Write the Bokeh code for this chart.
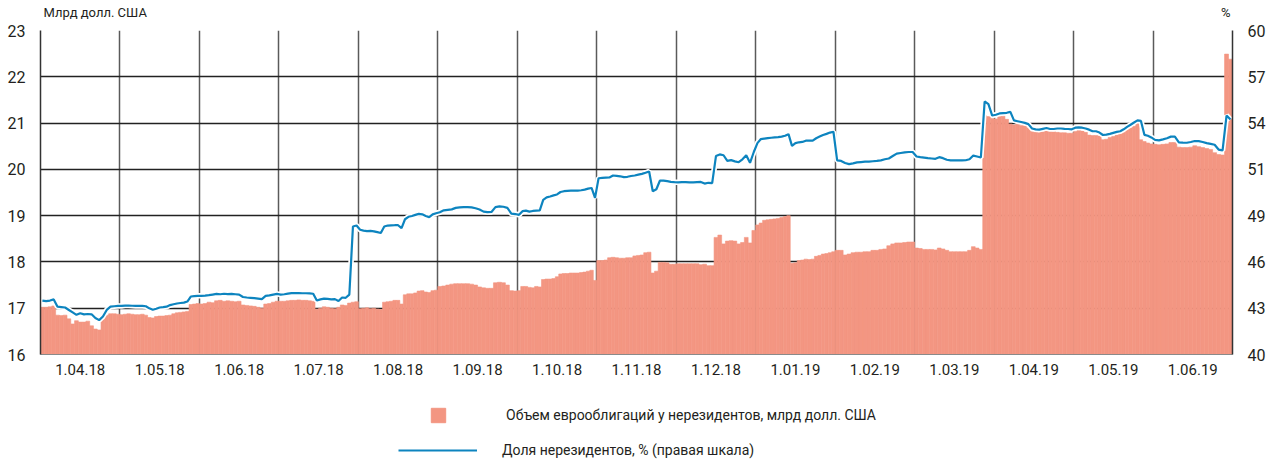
from bokeh.plotting import figure
from bokeh.layouts import column
from bokeh.models import (Range1d, LinearAxis, FixedTicker, NumeralTickFormatter,
                          Legend, LegendItem, Label, ColumnDataSource)
from bokeh.embed import file_html
from bokeh.resources import INLINE

# ---------------- data ----------------
month_labels = ["1.04.18", "1.05.18", "1.06.18", "1.07.18", "1.08.18", "1.09.18",
                "1.10.18", "1.11.18", "1.12.18", "1.01.19", "1.02.19", "1.03.19",
                "1.04.19", "1.05.19", "1.06.19"]
# trading days in each month (one bar per day)
days_per_month = [21, 23, 21, 22, 23, 20, 23, 22, 21, 23, 20, 21, 22, 23, 20]

# Eurobonds held by non-residents, bn USD (left axis)
volume = [
    17.02, 17.02, 17.03, 17.05, 16.85, 16.84, 16.85, 16.77, 16.66, 16.73, 16.70, 16.70, 16.72, 16.62, 16.55, 16.53, 16.84, 16.85, 16.88, 16.88, 16.87,
    16.86, 16.87, 16.88, 16.87, 16.86, 16.86, 16.87, 16.85, 16.80, 16.79, 16.82, 16.83, 16.83, 16.84, 16.85, 16.88, 16.90, 16.91, 16.92, 16.93, 17.08, 17.09, 17.10,
    17.09, 17.10, 17.13, 17.12, 17.16, 17.17, 17.15, 17.16, 17.15, 17.14, 17.15, 17.07, 17.06, 17.05, 17.04, 17.02, 17.00, 17.09, 17.10, 17.13, 17.15,
    17.15, 17.15, 17.16, 17.17, 17.17, 17.18, 17.17, 17.17, 17.16, 17.15, 16.98, 17.00, 17.03, 17.02, 17.00, 16.99, 17.02, 17.07, 17.06, 17.11, 17.13, 17.14,
    16.99, 17.00, 17.01, 16.99, 17.00, 16.98, 16.97, 17.13, 17.14, 17.15, 17.17, 17.17, 17.09, 17.29, 17.31, 17.31, 17.33, 17.37, 17.38, 17.35, 17.34, 17.38, 17.39,
    17.47, 17.48, 17.50, 17.52, 17.53, 17.53, 17.53, 17.53, 17.52, 17.50, 17.46, 17.44, 17.43, 17.43, 17.55, 17.56, 17.55, 17.50, 17.38, 17.37,
    17.38, 17.47, 17.47, 17.45, 17.44, 17.47, 17.46, 17.62, 17.63, 17.63, 17.64, 17.68, 17.74, 17.75, 17.75, 17.76, 17.76, 17.76, 17.77, 17.78, 17.80, 17.82, 17.60,
    18.03, 18.03, 18.04, 18.09, 18.10, 18.09, 18.08, 18.08, 18.09, 18.09, 18.13, 18.14, 18.15, 18.20, 18.21, 17.76, 17.80, 17.99, 17.99, 17.98, 17.95, 17.95,
    17.96, 17.96, 17.96, 17.96, 17.96, 17.96, 17.94, 17.95, 17.92, 17.92, 18.53, 18.58, 18.39, 18.45, 18.46, 18.45, 18.39, 18.42, 18.53, 18.41, 18.68,
    18.80, 18.84, 18.90, 18.91, 18.92, 18.93, 18.94, 18.96, 18.98, 19.00, 17.97, 17.98, 18.03, 18.04, 18.06, 18.05, 18.06, 18.12, 18.14, 18.17, 18.18, 18.20, 18.22,
    18.25, 18.25, 18.15, 18.17, 18.20, 18.21, 18.21, 18.22, 18.22, 18.25, 18.25, 18.27, 18.28, 18.35, 18.39, 18.41, 18.41, 18.42, 18.43, 18.43,
    18.30, 18.29, 18.27, 18.27, 18.27, 18.26, 18.30, 18.28, 18.25, 18.22, 18.22, 18.22, 18.22, 18.22, 18.25, 18.33, 18.30, 18.27, 21.16, 21.14, 21.10,
    21.09, 21.14, 21.15, 21.08, 20.98, 20.96, 21.00, 20.95, 20.94, 20.90, 20.82, 20.80, 20.80, 20.81, 20.84, 20.83, 20.82, 20.80, 20.79, 20.79, 20.78, 20.78,
    20.82, 20.84, 20.83, 20.80, 20.74, 20.73, 20.73, 20.72, 20.64, 20.65, 20.69, 20.71, 20.74, 20.78, 20.80, 20.86, 20.90, 20.93, 21.00, 20.64, 20.60, 20.57, 20.55,
    20.54, 20.53, 20.54, 20.55, 20.58, 20.58, 20.48, 20.47, 20.47, 20.48, 20.51, 20.49, 20.47, 20.45, 20.43, 20.36, 20.32, 20.31, 22.49, 22.38,
]

# Share of non-residents, % (right axis)
share = [
    43.33, 43.30, 43.33, 43.40, 42.95, 42.93, 42.90, 42.75, 42.60, 42.45, 42.55, 42.48, 42.50, 42.48, 42.25, 42.12, 42.35, 42.75, 42.95, 42.98, 43.00,
    43.00, 43.02, 43.02, 43.01, 43.00, 43.00, 43.00, 42.98, 42.85, 42.76, 42.82, 42.90, 42.92, 42.95, 43.05, 43.10, 43.15, 43.18, 43.20, 43.27, 43.58, 43.60, 43.62,
    43.62, 43.63, 43.66, 43.70, 43.74, 43.72, 43.75, 43.73, 43.74, 43.72, 43.70, 43.55, 43.52, 43.50, 43.48, 43.45, 43.42, 43.62, 43.65, 43.70, 43.74,
    43.70, 43.72, 43.76, 43.79, 43.79, 43.79, 43.78, 43.78, 43.77, 43.75, 43.33, 43.40, 43.45, 43.43, 43.40, 43.42, 43.30, 43.52, 43.50, 43.70, 47.90, 47.96,
    47.70, 47.65, 47.62, 47.63, 47.60, 47.55, 47.50, 47.90, 47.96, 47.97, 47.98, 47.98, 47.80, 48.35, 48.50, 48.55, 48.62, 48.68, 48.65, 48.55, 48.48, 48.65, 48.72,
    48.78, 48.90, 48.93, 48.96, 49.05, 49.08, 49.10, 49.10, 49.08, 49.03, 48.95, 48.82, 48.79, 48.80, 49.10, 49.14, 49.12, 49.05, 48.70, 48.67,
    48.62, 48.85, 48.88, 48.82, 48.86, 48.88, 48.90, 49.55, 49.70, 49.75, 49.82, 49.88, 50.03, 50.08, 50.10, 50.11, 50.12, 50.12, 50.14, 50.18, 50.24, 50.28, 49.67,
    50.88, 50.90, 50.92, 50.93, 51.05, 51.03, 51.00, 50.95, 50.97, 51.02, 51.05, 51.10, 51.15, 51.22, 51.30, 50.08, 50.20, 50.74, 50.73, 50.70, 50.66, 50.64,
    50.63, 50.64, 50.64, 50.63, 50.63, 50.64, 50.65, 50.55, 50.60, 50.58, 52.25, 52.35, 52.30, 51.95, 52.00, 51.92, 51.87, 52.05, 52.30, 51.83, 52.50,
    53.05, 53.30, 53.33, 53.36, 53.38, 53.40, 53.42, 53.45, 53.50, 53.60, 52.88, 53.05, 53.10, 53.12, 53.20, 53.21, 53.20, 53.35, 53.45, 53.55, 53.62, 53.70, 53.75,
    51.98, 51.95, 51.82, 51.75, 51.80, 51.86, 51.88, 51.90, 51.91, 51.93, 51.95, 51.98, 52.05, 52.10, 52.25, 52.40, 52.44, 52.48, 52.50, 52.50,
    52.22, 52.18, 52.15, 52.12, 52.10, 52.08, 52.18, 52.12, 52.02, 51.98, 51.98, 51.98, 51.98, 51.99, 52.05, 52.28, 52.22, 52.16, 55.62, 55.45, 54.75,
    54.80, 54.88, 54.90, 54.92, 54.98, 54.45, 54.40, 54.35, 54.30, 54.22, 53.95, 53.90, 53.88, 53.93, 53.98, 53.92, 53.92, 53.95, 53.95, 53.93, 53.92, 53.90,
    54.00, 54.02, 54.00, 53.95, 53.88, 53.78, 53.78, 53.70, 53.55, 53.57, 53.62, 53.68, 53.74, 53.78, 53.90, 54.05, 54.18, 54.32, 54.45, 54.42, 53.56, 53.50, 53.40,
    53.25, 53.22, 53.28, 53.35, 53.45, 53.45, 53.10, 53.08, 53.07, 53.12, 53.18, 53.17, 53.12, 53.05, 53.00, 52.95, 52.65, 52.60, 54.75, 54.50,
]

left_ticks = [16, 17, 18, 19, 20, 21, 22, 23]
right_range = (40, 60)

unit_left = "Млрд долл. США"
unit_right = "%"
label_volume = "Объем еврооблигаций у нерезидентов, млрд долл. США"
label_share = "Доля нерезидентов, % (правая шкала)"

# ---------------- style ----------------
FONT = "Roboto"
TXT = "#231f20"
BAR = "#F39682"
BLUE = "#0D84BF"
W = 1273
BORDER_L, BORDER_R = 40, 41   # frames of all strips are aligned


def blank_strip(h):
    f = figure(width=W, height=h, x_range=Range1d(0, 1), y_range=Range1d(0, 1),
               x_axis_location=None, y_axis_location=None,
               output_backend="svg", toolbar_location=None,
               min_border_left=BORDER_L, min_border_right=BORDER_R,
               min_border_top=0, min_border_bottom=0)
    f.grid.visible = False
    f.outline_line_color = None
    return f


# bar positions: each month occupies one unit of the x scale
xs, ws = [], []
for k, n in enumerate(days_per_month):
    for j in range(n):
        xs.append(k + (j + 0.5) / n)
        ws.append(1.0 / n)

src = ColumnDataSource(dict(x=xs, w=ws, volume=volume, share=share))
n_months = len(month_labels)

# ---------------- header strip (unit labels) ----------------
HEAD_H = 20
head = blank_strip(HEAD_H)
head.add_layout(Label(x=3, y=HEAD_H - 12, x_units="screen", y_units="screen", text=unit_left,
                      text_font=FONT, text_font_size="13px", text_color=TXT,
                      text_baseline="middle", text_align="left"))
head.add_layout(Label(x=1190, y=HEAD_H - 12, x_units="screen", y_units="screen", text=unit_right,
                      text_font=FONT, text_font_size="13px", text_color=TXT,
                      text_baseline="middle", text_align="right"))

# ---------------- main chart ----------------
p = figure(width=W, height=366,
           x_range=Range1d(0, n_months), y_range=Range1d(left_ticks[0], left_ticks[-1]),
           output_backend="svg", toolbar_location=None,
           min_border_left=BORDER_L, min_border_right=BORDER_R, min_border_top=10, min_border_bottom=32)
p.outline_line_color = None
p.extra_y_ranges = {"share": Range1d(*right_range)}

p.vbar(x="x", width="w", top="volume", bottom=left_ticks[0], source=src,
       fill_color=BAR, line_color=BAR, line_width=0.6)
p.line(x="x", y="share", source=src, y_range_name="share", line_color="white", line_width=5.5)
p.line(x="x", y="share", source=src, y_range_name="share", line_color=BLUE, line_width=2.2)


def style_axis(ax, line_color, line_width):
    ax.major_tick_out = 0
    ax.major_tick_in = 0
    ax.minor_tick_out = 0
    ax.minor_tick_in = 0
    ax.axis_line_color = line_color
    ax.axis_line_width = line_width
    ax.major_label_text_font = FONT
    ax.major_label_text_font_size = "16px"
    ax.major_label_text_color = TXT


# left axis
ya = p.yaxis[0]
ya.ticker = FixedTicker(ticks=left_ticks)
style_axis(ya, "#333333", 1.5)
ya.major_label_standoff = 15

# right axis, same grid positions
n_int = len(left_ticks) - 1
right_ticks = [right_range[0] + (right_range[1] - right_range[0]) * k / n_int for k in range(n_int + 1)]
ra = LinearAxis(y_range_name="share", ticker=FixedTicker(ticks=right_ticks),
                formatter=NumeralTickFormatter(format="0"))
style_axis(ra, "#333333", 1.5)
ra.major_label_standoff = 15
p.add_layout(ra, "right")

# x axis: labels centred in each month cell
xa = p.xaxis[0]
label_pos = [k + 0.5 for k in range(n_months)]
xa.ticker = FixedTicker(ticks=label_pos)
xa.major_label_overrides = {pos: lab for pos, lab in zip(label_pos, month_labels)}
style_axis(xa, "#8a8a8a", 1)
xa.major_label_text_font_size = "15px"
xa.major_label_standoff = 9

# grid: vertical lines on month boundaries
p.xgrid.ticker = FixedTicker(ticks=list(range(n_months + 1)))
p.xgrid.grid_line_color = "#5a5a5a"
p.xgrid.grid_line_width = 1.5
p.ygrid.grid_line_color = "#222222"
p.ygrid.grid_line_width = 1.5

# ---------------- legend strip ----------------
LEG_H = 75
leg = blank_strip(LEG_H)
# legend swatches: off-screen proxies carrying the series styles
proxy = ColumnDataSource(dict(x=[-1.0], y=[-1.0]))
proxy_bar = leg.vbar(x="x", top="y", width=0.1, source=proxy, fill_color=BAR, line_color=BAR)
proxy_line = leg.line(x="x", y="y", source=proxy, line_color=BLUE, line_width=2.2)

common = dict(padding=0, margin=0, spacing=0, label_height=18, glyph_height=18,
              border_line_color=None, background_fill_alpha=0,
              label_text_font=FONT, label_text_font_size="14px", label_text_color=TXT)
leg1 = Legend(items=[LegendItem(label=label_volume, renderers=[proxy_bar])],
              location=(389, 37), glyph_width=18, label_standoff=59, **common)
leg2 = Legend(items=[LegendItem(label=label_share, renderers=[proxy_line])],
              location=(358, 2), glyph_width=79, label_standoff=25, **common)
leg.add_layout(leg1, "center")
leg.add_layout(leg2, "center")

layout = column(head, p, leg, spacing=0)
open("out.html", "w").write(file_html(layout, INLINE))
